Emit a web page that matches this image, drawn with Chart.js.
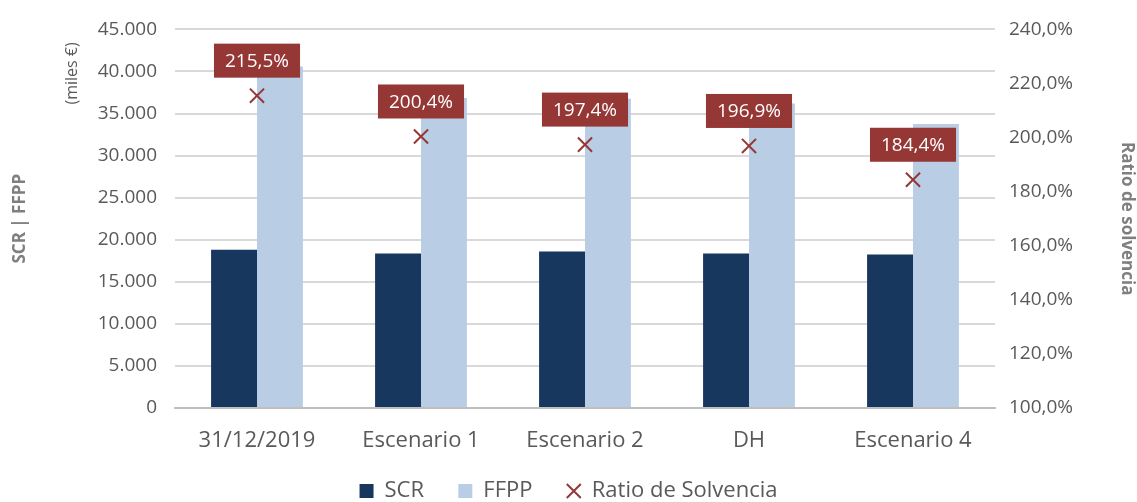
<!DOCTYPE html>
<html>
<head>
<meta charset="utf-8">
<script src="https://cdn.jsdelivr.net/npm/chart.js@4/dist/chart.umd.min.js"></script>
<style>
  html, body { margin: 0; padding: 0; background: #fff; }
  #wrap { width: 1137px; height: 502px; }
</style>
</head>
<body>
<div id="wrap"><canvas id="chart" width="1137" height="502"></canvas></div>
<script>
// data
const categories = ['31/12/2019', 'Escenario 1', 'Escenario 2', 'DH', 'Escenario 4'];
const scrValues = [18800, 18370, 18600, 18370, 18250];
const ffppValues = [40600, 36850, 36750, 36200, 33750];
const ratioValues = [215.5, 200.4, 197.4, 196.9, 184.4];

const FONT = '"Open Sans", "Noto Sans", sans-serif';
const GREY = '#595959';
const RED = '#953735';

function fmtMiles(v) {
  return String(v).replace(/\B(?=(\d{3})+(?!\d))/g, '.');
}
function fmtPct(v) {
  return v.toFixed(1).replace('.', ',') + '%';
}

// boxed labels above the ratio markers + the "(miles €)" note
const extras = {
  id: 'extras',
  afterDatasetsDraw(chart) {
    const ctx = chart.ctx;
    const meta = chart.getDatasetMeta(2);
    ctx.save();
    ctx.font = '19px ' + FONT;
    ctx.textAlign = 'center';
    ctx.textBaseline = 'middle';
    meta.data.forEach((pt, i) => {
      const txt = fmtPct(ratioValues[i]);
      const w = ctx.measureText(txt).width + 22;
      const h = 34;
      const cx = pt.x, bottom = pt.y - 18;
      ctx.fillStyle = RED;
      ctx.fillRect(cx - w / 2, bottom - h, w, h);
      ctx.fillStyle = '#fff';
      ctx.fillText(txt, cx, bottom - h / 2 + 1);
    });
    ctx.restore();

    const a = chart.chartArea;
    ctx.save();
    ctx.translate(a.left - 103, a.top + 44);
    ctx.rotate(-Math.PI / 2);
    ctx.font = '16px ' + FONT;
    ctx.fillStyle = GREY;
    ctx.textAlign = 'center';
    ctx.textBaseline = 'middle';
    ctx.fillText('(miles €)', 0, 0);
    ctx.restore();
  }
};

new Chart(document.getElementById('chart'), {
  data: {
    labels: categories,
    datasets: [
      {
        type: 'bar',
        label: 'SCR',
        data: scrValues,
        backgroundColor: '#17375e',
        yAxisID: 'y',
        pointStyle: 'rect',
        categoryPercentage: 0.56,
        barPercentage: 1.0,
        order: 1
      },
      {
        type: 'bar',
        label: 'FFPP',
        data: ffppValues,
        backgroundColor: '#b9cde5',
        yAxisID: 'y',
        pointStyle: 'rect',
        categoryPercentage: 0.56,
        barPercentage: 1.0,
        order: 1
      },
      {
        type: 'line',
        label: 'Ratio de Solvencia',
        data: ratioValues,
        yAxisID: 'y1',
        showLine: false,
        pointStyle: 'crossRot',
        pointRadius: 10,
        pointBorderWidth: 2,
        borderWidth: 2,
        borderColor: RED,
        backgroundColor: RED,
        order: 0
      }
    ]
  },
  options: {
    responsive: false,
    animation: false,
    layout: { padding: { top: 18, right: 0, left: 0, bottom: -10 } },
    plugins: {
      tooltip: { enabled: false },
      legend: {
        position: 'bottom',
        labels: {
          usePointStyle: true,
          boxWidth: 14,
          boxHeight: 14,
          padding: 0,
          color: GREY,
          font: { family: FONT, size: 22 },
          generateLabels: (chart) => {
            const items = Chart.defaults.plugins.legend.labels.generateLabels(chart);
            items.sort((a, b) => a.datasetIndex - b.datasetIndex);
            items.forEach((it, i) => {
              if (i < items.length - 1) it.text = it.text + '      ';
            });
            return items;
          }
        }
      }
    },
    scales: {
      x: {
        grid: { display: false },
        border: { color: '#bfbfbf', width: 2 },
        ticks: { color: GREY, font: { family: FONT, size: 22 }, padding: 12 },
        afterFit: (s) => { s.height = 72; }
      },
      y: {
        position: 'left',
        min: 0,
        max: 45000,
        ticks: {
          stepSize: 5000,
          color: GREY,
          padding: 18,
          font: { family: FONT, size: 19 },
          callback: (v) => fmtMiles(v)
        },
        grid: { color: '#d9d9d9', lineWidth: 2, drawTicks: false },
        border: { display: false },
        title: {
          display: true,
          text: 'SCR | FFPP',
          color: '#7f7f7f',
          font: { family: FONT, size: 17, weight: 'bold' },
          padding: { top: 10, bottom: 0 }
        },
        afterFit: (s) => { s.width = 175; }
      },
      y1: {
        position: 'right',
        min: 100,
        max: 240,
        ticks: {
          stepSize: 20,
          color: GREY,
          padding: 6,
          font: { family: FONT, size: 19 },
          callback: (v) => fmtPct(v)
        },
        grid: { display: false },
        border: { display: false },
        title: {
          display: true,
          text: 'Ratio de solvencia',
          color: '#7f7f7f',
          font: { family: FONT, size: 17, weight: 'bold' },
          padding: { top: 0, bottom: 0 }
        },
        afterFit: (s) => { s.width = 142; }
      }
    }
  },
  plugins: [extras]
});
</script>
</body>
</html>
